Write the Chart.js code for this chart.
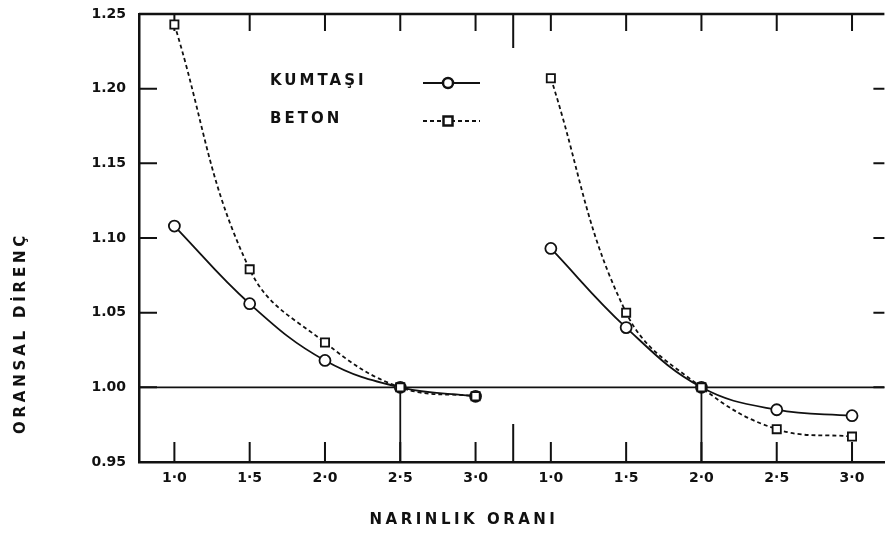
<!DOCTYPE html>
<html lang="tr">
<head>
<meta charset="utf-8">
<title>Oransal direnç - narinlik oranı</title>
<script src="https://cdn.jsdelivr.net/npm/chart.js@4.4.1/dist/chart.umd.min.js"></script>
<style>
  html, body { margin: 0; padding: 0; background: #fff; }
  #kutu { width: 892px; height: 535px; }
</style>
</head>
<body>
<div id="kutu"><canvas id="grafik" width="892" height="535"></canvas></div>
<script>
// narinlik oranları (iki grup yan yana)
const narinlikOranlari = [1.0, 1.5, 2.0, 2.5, 3.0];
const xEtiketleri = ['1·0', '1·5', '2·0', '2·5', '3·0'];

// sol grup
const kumtasiSol = [1.108, 1.056, 1.018, 1.000, 0.994];
const betonSol = [1.243, 1.079, 1.030, 1.000, 0.994];
// sağ grup
const kumtasiSag = [1.093, 1.040, 1.000, 0.985, 0.981];
const betonSag = [1.207, 1.050, 1.000, 0.972, 0.967];

const yDegerleri = [0.95, 1.00, 1.05, 1.10, 1.15, 1.20, 1.25];
const yEtiketleri = ['0.95', '1.00', '1.05', '1.10', '1.15', '1.20', '1.25'];

const seriAdlari = ['KUMTAŞI', 'BETON'];

// 1.00 çizgisi ve dikey çizgilerin narinlik oranı (sol grup, sağ grup)
const referansDirenc = 1.00;
const referansOranlar = [2.5, 2.0];

const yaziTipi = '"DejaVu Sans"';
const siyah = '#111';

// oranı x ekseninde konuma çevir (grup 0 = sol, grup 1 = sağ)
function konum(oran, grup) {
    return grup * 5 + (oran - 1.0) / 0.5;
}
const ayiriciKonum = 4.5;

function seri(degerler, grup) {
    return degerler.map((d, i) => ({ x: konum(narinlikOranlari[i], grup), y: d }));
}

const kumtasiStil = {
    label: seriAdlari[0],
    borderColor: siyah,
    borderWidth: 1.8,
    pointStyle: 'circle',
    pointRadius: 5.5,
    pointBorderWidth: 1.8,
    pointBorderColor: siyah,
    pointBackgroundColor: '#fff',
    tension: 0.4,
    fill: false
};
const betonStil = {
    label: seriAdlari[1],
    borderColor: siyah,
    borderWidth: 1.8,
    borderDash: [4, 3],
    pointStyle: 'rect',
    pointRadius: 5.8,
    pointBorderWidth: 1.8,
    pointBorderColor: siyah,
    pointBackgroundColor: '#fff',
    tension: 0.4,
    fill: false
};

// çerçeve, çentikler, referans çizgileri, lejant ve eksen başlıkları
const cizimEkleri = {
    id: 'cizimEkleri',
    beforeDatasetsDraw(chart) {
        const { ctx, chartArea: a, scales: { x, y } } = chart;
        ctx.save();
        ctx.strokeStyle = siyah;
        ctx.lineWidth = 1.8;

        const y1 = y.getPixelForValue(referansDirenc);
        ctx.beginPath();
        ctx.moveTo(a.left, y1);
        ctx.lineTo(a.right, y1);
        ctx.stroke();
        referansOranlar.forEach((oran, grup) => {
            const px = x.getPixelForValue(konum(oran, grup));
            ctx.beginPath();
            ctx.moveTo(px, y1);
            ctx.lineTo(px, a.bottom);
            ctx.stroke();
        });

        // üst çerçeve
        ctx.lineWidth = 2.5;
        ctx.beginPath();
        ctx.moveTo(a.left, a.top);
        ctx.lineTo(a.right, a.top);
        ctx.stroke();

        // x çentikleri (üst ve alt, içe doğru)
        ctx.lineWidth = 2;
        x.ticks.forEach(t => {
            const px = x.getPixelForValue(t.value);
            ctx.beginPath();
            ctx.moveTo(px, a.top);
            ctx.lineTo(px, a.top + 17);
            ctx.moveTo(px, a.bottom);
            ctx.lineTo(px, a.bottom - 20);
            ctx.stroke();
        });
        const ap = x.getPixelForValue(ayiriciKonum);
        ctx.beginPath();
        ctx.moveTo(ap, a.top);
        ctx.lineTo(ap, a.top + 34);
        ctx.moveTo(ap, a.bottom);
        ctx.lineTo(ap, a.bottom - 38);
        ctx.stroke();

        // y çentikleri (sol ve sağ)
        yDegerleri.slice(1, -1).forEach(v => {
            const py = y.getPixelForValue(v);
            ctx.beginPath();
            ctx.moveTo(a.left, py);
            ctx.lineTo(a.left + 18, py);
            ctx.moveTo(a.right, py);
            ctx.lineTo(a.right - 11, py);
            ctx.stroke();
        });
        ctx.restore();
    },
    afterDraw(chart) {
        const { ctx, chartArea: a } = chart;
        ctx.save();
        ctx.fillStyle = siyah;
        ctx.strokeStyle = siyah;

        // lejant
        ctx.font = 'bold 15px ' + yaziTipi;
        ctx.letterSpacing = '3px';
        ctx.textAlign = 'left';
        ctx.textBaseline = 'middle';
        const stiller = [kumtasiStil, betonStil];
        seriAdlari.forEach((ad, i) => {
            const ly = a.top + 67 + i * 38;
            const lx = a.left + 131;
            ctx.fillText(ad, lx, ly);
            const s = stiller[i];
            const x0 = a.left + 284, x1 = a.left + 341, xm = a.left + 309;
            ctx.lineWidth = 2.2;
            ctx.setLineDash(s.borderDash || []);
            ctx.beginPath();
            ctx.moveTo(x0, ly + 2);
            ctx.lineTo(x1, ly + 2);
            ctx.stroke();
            ctx.setLineDash([]);
            ctx.fillStyle = '#fff';
            ctx.lineWidth = 2.5;
            ctx.beginPath();
            if (s.pointStyle === 'circle') {
                ctx.arc(xm, ly + 2, 5, 0, Math.PI * 2);
            } else {
                ctx.rect(xm - 4.5, ly + 2 - 4.5, 9, 9);
            }
            ctx.fill();
            ctx.stroke();
            ctx.fillStyle = siyah;
        });

        // eksen başlıkları
        ctx.font = 'bold 15px ' + yaziTipi;
        ctx.textAlign = 'center';
        ctx.letterSpacing = '3.5px';
        ctx.fillText('NARINLIK ORANI', a.left + 325, 520);

        ctx.letterSpacing = '3.8px';
        ctx.translate(21, 333);
        ctx.rotate(-Math.PI / 2);
        ctx.fillText('ORANSAL DİRENÇ', 0, 0);
        ctx.restore();
    }
};

const grafik = new Chart(document.getElementById('grafik'), {
    type: 'line',
    data: {
        datasets: [
            { ...betonStil, data: seri(betonSol, 0) },
            { ...betonStil, data: seri(betonSag, 1) },
            { ...kumtasiStil, data: seri(kumtasiSol, 0) },
            { ...kumtasiStil, data: seri(kumtasiSag, 1) }
        ]
    },
    options: {
        responsive: false,
        animation: false,
        devicePixelRatio: 1,
        layout: { padding: { top: 14, right: 0, bottom: 0, left: 0 } },
        plugins: {
            legend: { display: false },
            tooltip: { enabled: false }
        },
        scales: {
            x: {
                type: 'linear',
                min: -0.47,
                max: 9.43,
                afterBuildTicks: scale => {
                    scale.ticks = [0, 1].flatMap(g => narinlikOranlari.map(o => ({ value: konum(o, g) })));
                },
                afterFit: scale => { scale.height = 73; },
                grid: { display: false, drawTicks: false },
                border: { display: true, color: siyah, width: 2.5 },
                ticks: {
                    autoSkip: false,
                    maxRotation: 0,
                    padding: 8,
                    color: siyah,
                    font: { family: yaziTipi, size: 14, weight: 'bold' },
                    callback: (v, i) => xEtiketleri[i % xEtiketleri.length]
                }
            },
            y: {
                min: 0.95,
                max: 1.25,
                afterBuildTicks: scale => {
                    scale.ticks = yDegerleri.map(v => ({ value: v }));
                },
                afterFit: scale => {
                    scale.width = 139;
                    scale.paddingTop = 0;
                    scale.paddingBottom = 0;
                },
                grid: { display: false, drawTicks: false },
                border: { display: true, color: siyah, width: 2.5 },
                ticks: {
                    padding: 13,
                    color: siyah,
                    font: { family: yaziTipi, size: 14, weight: 'bold' },
                    callback: (v, i) => yEtiketleri[i]
                }
            }
        }
    },
    plugins: [cizimEkleri]
});
</script>
</body>
</html>
